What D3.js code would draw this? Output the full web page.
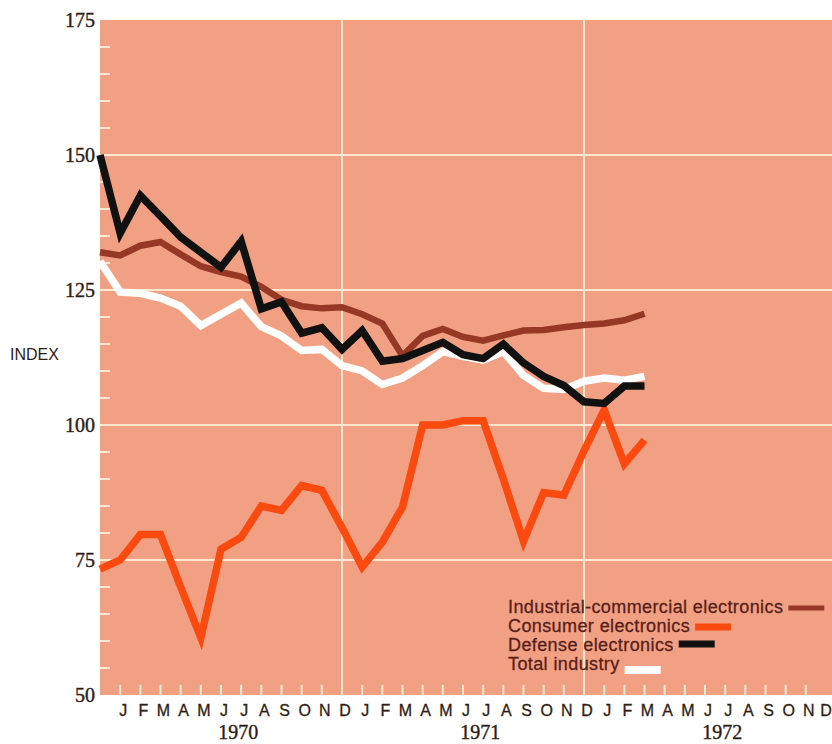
<!DOCTYPE html>
<html>
<head>
<meta charset="utf-8">
<script src="https://cdn.jsdelivr.net/npm/d3@7"></script>
<style>
  html, body { margin: 0; padding: 0; background: #ffffff; }
  svg { display: block; }
</style>
</head>
<body>
<svg id="chart" width="832" height="744"></svg>
<script>
// ---- Data (monthly index, Dec 1969 .. Mar 1972) ----
const months = ["Dec69","Jan70","Feb70","Mar70","Apr70","May70","Jun70","Jul70","Aug70","Sep70","Oct70","Nov70","Dec70",
                "Jan71","Feb71","Mar71","Apr71","May71","Jun71","Jul71","Aug71","Sep71","Oct71","Nov71","Dec71",
                "Jan72","Feb72","Mar72"];
const industrial = [132, 131.4, 133.2, 133.9, 131.6, 129.4, 128.3, 127.5, 125.6, 123.2, 122, 121.6, 121.8,
                    120.5, 118.8, 112.8, 116.5, 117.8, 116.3, 115.6, 116.6, 117.5, 117.6, 118.1, 118.5,
                    118.8, 119.4, 120.6];
const consumer   = [73.3, 75, 79.7, 79.7, 70, 60.6, 77, 79.2, 85, 84.2, 88.8, 87.9, 81,
                    73.7, 78.3, 84.8, 100, 100, 100.8, 100.8, 90, 78.5, 87.5, 87, 95.2,
                    102.8, 92.8, 97.2];
const defense    = [150, 135.5, 142.5, 138.7, 134.8, 132, 129.2, 134, 121.5, 122.8, 117, 118, 114,
                    117.5, 111.8, 112.3, 113.8, 115.3, 113, 112.3, 115, 111.5, 109, 107.3, 104.3,
                    104, 107.2, 107.2];
const total      = [130.3, 124.6, 124.4, 123.5, 122, 118.4, 120.5, 122.6, 118.2, 116.5, 113.8, 114, 111,
                    110, 107.5, 108.7, 111, 113.6, 112.7, 112, 113.6, 109.2, 106.8, 106.6, 108.1,
                    108.7, 108.3, 109];
const monthLetters = ["J","F","M","A","M","J","J","A","S","O","N","D"];
const years = ["1970","1971","1972"];
const yTicks = [50, 75, 100, 125, 150, 175];
const seriesNames = ["Industrial-commercial electronics","Consumer electronics","Defense electronics","Total industry"];

// ---- Layout ----
const W = 832, H = 744;
const plot = { left: 100, right: 832, top: 20, bottom: 695 };
const svg = d3.select("#chart");

const x = d3.scaleLinear().domain([0, 36]).range([100, 826]);
const y = d3.scaleLinear().domain([50, 175]).range([plot.bottom, plot.top]);

const BG = "#f2a083", GRID = "#fde8cf", TXT = "#2e1d16", LEG = "#57201a";
const colors = { industrial: "#953825", consumer: "#fb4a10", defense: "#111111", total: "#ffffff" };

// background
svg.append("rect").attr("x", plot.left).attr("y", plot.top)
  .attr("width", plot.right - plot.left).attr("height", plot.bottom - plot.top)
  .attr("fill", BG);

// horizontal gridlines
const gridVals = yTicks.filter(v => v > 50 && v < 175);
svg.append("g").selectAll("line").data(gridVals).join("line")
  .attr("x1", plot.left).attr("x2", plot.right)
  .attr("y1", d => y(d)).attr("y2", d => y(d))
  .attr("stroke", GRID).attr("stroke-width", 2);

// vertical gridlines at year boundaries (Dec)
svg.append("g").selectAll("line").data([12, 24]).join("line")
  .attr("x1", d => x(d)).attr("x2", d => x(d))
  .attr("y1", plot.top).attr("y2", plot.bottom)
  .attr("stroke", GRID).attr("stroke-width", 2);

// left minor ticks every 5 units
const minorY = d3.range(55, 175, 5).filter(v => v % 25 !== 0);
svg.append("g").selectAll("line").data(minorY).join("line")
  .attr("x1", plot.left).attr("x2", plot.left + 10)
  .attr("y1", d => y(d)).attr("y2", d => y(d))
  .attr("stroke", GRID).attr("stroke-width", 2);

// bottom monthly ticks
svg.append("g").selectAll("line").data(d3.range(1, 36)).join("line")
  .attr("x1", d => x(d)).attr("x2", d => x(d))
  .attr("y1", plot.bottom - 10).attr("y2", plot.bottom)
  .attr("stroke", GRID).attr("stroke-width", 2);

// y labels
svg.append("g").selectAll("text").data(yTicks).join("text")
  .attr("x", 95).attr("y", d => y(d)).attr("dy", "0.33em")
  .attr("text-anchor", "end")
  .attr("font-family", "Liberation Serif, serif").attr("font-size", 20)
  .attr("stroke", TXT).attr("stroke-width", 0.4)
  .attr("fill", TXT).text(d => d);

svg.append("text").attr("x", 10).attr("y", 360)
  .attr("font-family", "Liberation Sans, Arial, sans-serif").attr("font-size", 16)
  .attr("fill", TXT).text("INDEX");

// month labels
const monthIdx = d3.range(1, 37);
svg.append("g").selectAll("text").data(monthIdx).join("text")
  .attr("x", d => Math.min(x(d) + 3, 826)).attr("y", 716)
  .attr("text-anchor", "middle")
  .attr("font-family", "Liberation Sans, Arial, sans-serif").attr("font-size", 16)
  .attr("stroke", TXT).attr("stroke-width", 0.3)
  .attr("fill", TXT).text(d => monthLetters[(d - 1) % 12]);

// year labels
svg.append("g").selectAll("text").data(years).join("text")
  .attr("x", (d, i) => x(i * 12 + 6.85)).attr("y", 739)
  .attr("text-anchor", "middle")
  .attr("font-family", "Liberation Serif, serif").attr("font-size", 20)
  .attr("stroke", TXT).attr("stroke-width", 0.4)
  .attr("fill", TXT).text(d => d);

// lines
const line = d3.line().x((d, i) => x(i)).y(d => y(d)).curve(d3.curveLinear);
const drawOrder = [
  { data: consumer, color: colors.consumer, w: 7.5 },
  { data: industrial, color: colors.industrial, w: 6.5 },
  { data: total, color: colors.total, w: 7.5 },
  { data: defense, color: colors.defense, w: 7.5 }
];
svg.append("g").selectAll("path").data(drawOrder).join("path")
  .attr("d", d => line(d.data))
  .attr("fill", "none")
  .attr("stroke", d => d.color)
  .attr("stroke-width", d => d.w)
  .attr("stroke-linejoin", "miter")
  .attr("stroke-miterlimit", 4);

// legend
const legColors = [colors.industrial, colors.consumer, colors.defense, colors.total];
const legBase = [613, 632, 651, 670];
const swDy = [-5, -5, -7, 0];
const swH = [5, 7, 7, 8];
const lg = svg.append("g");
seriesNames.forEach((name, i) => {
  const t = lg.append("text").attr("x", 508).attr("y", legBase[i])
    .attr("font-family", "Liberation Sans, Arial, sans-serif").attr("font-size", 18)
    .attr("letter-spacing", "0.4px")
    .attr("stroke", LEG).attr("stroke-width", 0.3)
    .attr("fill", LEG).text(name);
  const len = t.node().getComputedTextLength();
  lg.append("rect").attr("x", 508 + len + 5).attr("y", legBase[i] + swDy[i] - swH[i] / 2)
    .attr("width", 36).attr("height", swH[i]).attr("fill", legColors[i]);
});
</script>
</body>
</html>
